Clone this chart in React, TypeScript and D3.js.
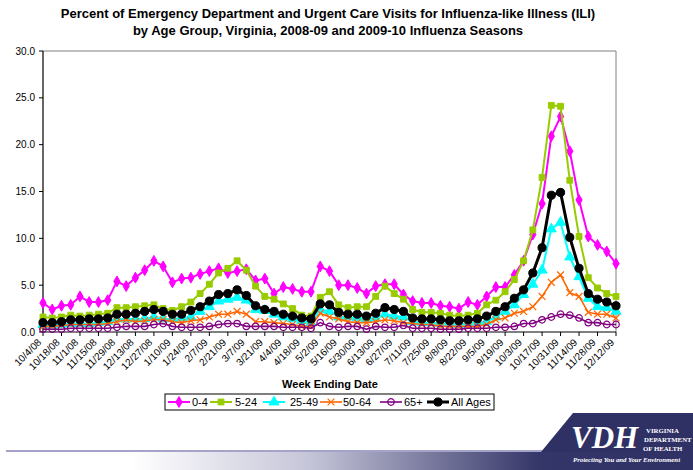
import React from "react";
import * as d3 from "d3";

const weeks = [
  "10/4/08","10/11/08","10/18/08","10/25/08","11/1/08","11/8/08","11/15/08","11/22/08","11/29/08","12/6/08",
  "12/13/08","12/20/08","12/27/08","1/3/09","1/10/09","1/17/09","1/24/09","1/31/09","2/7/09","2/14/09",
  "2/21/09","2/28/09","3/7/09","3/14/09","3/21/09","3/28/09","4/4/09","4/11/09","4/18/09","4/25/09",
  "5/2/09","5/9/09","5/16/09","5/23/09","5/30/09","6/6/09","6/13/09","6/20/09","6/27/09","7/4/09",
  "7/11/09","7/18/09","7/25/09","8/1/09","8/8/09","8/15/09","8/22/09","8/29/09","9/5/09","9/12/09",
  "9/19/09","9/26/09","10/3/09","10/10/09","10/17/09","10/24/09","10/31/09","11/7/09","11/14/09","11/21/09",
  "11/28/09","12/5/09","12/12/09",
];

const age0_4 = [3.1,2.4,2.8,2.9,3.8,3.2,3.2,3.4,5.4,4.9, 5.8,6.6,7.6,7.0,5.3,5.7,5.8,6.2,6.5,6.8, 6.3,6.5,6.7,5.5,5.7,4.1,4.8,4.6,4.3,4.3, 7.0,6.5,5.0,5.0,4.7,4.1,4.9,5.1,5.1,4.0, 3.3,3.1,3.1,2.8,2.7,2.5,3.2,2.9,3.8,4.8, 4.8,6.1,7.6,10.4,13.7,20.9,23.0,19.3,14.1,10.2, 9.3,8.6,7.3];
const age5_24 = [1.6,1.5,1.6,1.8,1.7,1.8,1.9,2.0,2.6,2.6, 2.7,2.8,2.9,2.5,2.3,2.7,3.2,4.1,5.1,6.3, 6.8,7.6,6.6,4.9,3.8,3.5,3.0,2.5,1.8,1.7, 3.7,4.3,2.9,2.6,2.7,2.7,3.8,4.9,4.1,3.5, 2.4,2.1,2.1,2.0,1.8,1.7,1.8,2.0,2.9,3.4, 4.3,5.6,7.6,10.9,16.5,24.2,24.1,16.2,10.2,5.8, 4.7,4.1,3.8];
const age25_49 = [0.8,0.7,0.8,0.9,0.9,0.9,1.0,1.1,1.4,1.4, 1.4,1.4,1.6,1.4,1.4,1.5,1.6,2.2,2.7,3.3, 3.5,3.7,3.4,2.4,2.3,1.9,1.6,1.4,1.2,1.0, 2.4,2.2,1.6,1.6,1.5,1.4,1.5,1.9,1.7,1.6, 1.1,1.0,1.0,0.9,0.9,0.8,0.9,1.0,1.1,1.6, 2.2,2.9,4.0,5.1,6.6,11.0,11.7,8.0,5.9,3.6, 2.7,2.6,2.2];
const age50_64 = [0.6,0.6,0.7,0.8,0.8,0.8,0.8,0.9,1.1,1.3, 1.1,1.2,1.3,1.3,1.1,1.0,1.2,1.3,1.6,1.9, 1.9,2.2,1.9,1.1,1.1,1.0,0.9,0.8,0.6,0.6, 2.0,1.6,1.4,1.1,1.0,1.0,1.1,1.3,1.2,1.0, 0.9,0.8,0.8,0.6,0.6,0.6,0.6,0.6,0.8,1.3, 1.5,2.0,2.2,2.7,3.8,5.3,6.1,4.2,3.8,2.1, 1.9,1.9,1.5];
const age65 = [0.3,0.3,0.3,0.4,0.4,0.4,0.4,0.4,0.5,0.6, 0.6,0.6,0.8,0.9,0.6,0.5,0.5,0.5,0.6,0.8, 0.9,0.9,0.6,0.6,0.6,0.6,0.5,0.5,0.5,0.4, 1.0,0.6,0.5,0.6,0.6,0.3,0.6,0.5,0.5,0.7, 0.4,0.4,0.4,0.3,0.3,0.3,0.4,0.4,0.4,0.5, 0.5,0.6,0.9,0.9,1.3,1.6,1.9,1.8,1.5,1.0, 1.0,0.8,0.8];
const allAges = [1.0,1.0,1.1,1.3,1.3,1.4,1.4,1.5,1.9,1.9, 2.0,2.2,2.4,2.2,1.9,1.9,2.3,2.7,3.3,4.0, 4.1,4.5,3.9,2.8,2.4,2.2,1.9,1.7,1.5,1.4, 3.0,2.9,2.1,1.9,1.9,1.7,2.0,2.6,2.4,2.2, 1.5,1.4,1.4,1.3,1.2,1.2,1.3,1.4,1.7,2.2, 2.7,3.6,4.5,6.3,9.0,14.6,14.9,10.1,6.8,4.1, 3.5,3.2,2.8];

const yTicks = [0, 5, 10, 15, 20, 25, 30];

const seriesNames = ["0-4", "5-24", "25-49", "50-64", "65+", "All Ages"];
const seriesValues = [age0_4, age5_24, age25_49, age50_64, age65, allAges];

type Style = { color: string; width: number; symbol: d3.SymbolType; size: number; fill: string; stroke: string; sw: number };
const styles: Style[] = [
  { color: "#FF00FF", width: 2, symbol: d3.symbolDiamond, size: 34, fill: "#FF00FF", stroke: "#FF00FF", sw: 1 },
  { color: "#99CC00", width: 2, symbol: d3.symbolSquare, size: 34, fill: "#99CC00", stroke: "#99CC00", sw: 1 },
  { color: "#00FFFF", width: 2, symbol: d3.symbolTriangle, size: 44, fill: "#00FFFF", stroke: "#00FFFF", sw: 1 },
  { color: "#FF6600", width: 1.6, symbol: d3.symbolX, size: 32, fill: "none", stroke: "#FF6600", sw: 1.2 },
  { color: "#800080", width: 1.6, symbol: d3.symbolCircle, size: 34, fill: "none", stroke: "#800080", sw: 1.2 },
  { color: "#000000", width: 3, symbol: d3.symbolCircle, size: 52, fill: "#000000", stroke: "#000000", sw: 1 },
];

const W = 693, H = 470;
const L = 43, R = 616, T = 51, B = 332;

export default function App() {
  const x = d3.scalePoint<string>().domain(weeks).range([L, R]);
  const y = d3.scaleLinear().domain([0, 30]).range([B, T]);
  const line = d3.line<number>().x((_, i) => x(weeks[i]) as number).y((d) => y(d));

  const legendItems = [
    { lx: 168, tx: 192 },
    { lx: 210, tx: 235 },
    { lx: 263, tx: 290 },
    { lx: 320, tx: 343 },
    { lx: 380, tx: 404 },
    { lx: 427, tx: 451 },
  ];

  return (
    <svg width={W} height={H} style={{ position: "absolute", left: 0, top: 0, background: "#fff" }} fontFamily="Liberation Sans, Arial, sans-serif">
      <defs>
        <linearGradient id="band" x1="0" x2="1" y1="0" y2="0">
          <stop offset="0" stopColor="#ffffff" />
          <stop offset="0.19" stopColor="#ffffff" />
          <stop offset="0.45" stopColor="#c4c4d8" />
          <stop offset="0.78" stopColor="#343568" />
          <stop offset="1" stopColor="#2f3064" />
        </linearGradient>
      </defs>
      <rect x={0} y={0} width={W} height={H} fill="#fff" />
      <text x={328} y={18} textAnchor="middle" fontSize={13} fontWeight="bold">Percent of Emergency Department and Urgent Care Visits for Influenza-like Illness (ILI)</text>
      <text x={328} y={35} textAnchor="middle" fontSize={13} fontWeight="bold">by Age Group, Virginia, 2008-09 and 2009-10 Influenza Seasons</text>

      {/* plot frame */}
      <line x1={L} x2={R} y1={T} y2={T} stroke="#808080" strokeWidth={1} />
      <line x1={R} x2={R} y1={T} y2={B} stroke="#808080" strokeWidth={1} />

      {/* y axis */}
      <line x1={L} x2={L} y1={T} y2={B} stroke="#000" strokeWidth={1.2} />
      {yTicks.map((t) => (
        <g key={t}>
          <line x1={L - 4} x2={L} y1={y(t)} y2={y(t)} stroke="#000" />
          <text x={L - 8} y={y(t) + 3.5} textAnchor="end" fontSize={10}>{t.toFixed(1)}</text>
        </g>
      ))}

      {/* x axis */}
      <line x1={L} x2={R} y1={B} y2={B} stroke="#000" strokeWidth={1.2} />
      {weeks.map((w, i) => i % 2 === 0 ? (
        <g key={w}>
          <line x1={x(w)} x2={x(w)} y1={B} y2={B + 4} stroke="#000" />
          <text transform={`translate(${(x(w) as number) - 1},${B + 11}) rotate(-45)`} textAnchor="end" fontSize={10}>{w}</text>
        </g>
      ) : null)}
      <text x={330} y={388} textAnchor="middle" fontSize={11} fontWeight="bold">Week Ending Date</text>

      {/* series */}
      {seriesValues.map((vals, si) => {
        const s = styles[si];
        const sym = d3.symbol().type(s.symbol).size(s.size)();
        return (
          <g key={seriesNames[si]}>
            <path d={line(vals) || ""} fill="none" stroke={s.color} strokeWidth={s.width} strokeLinejoin="round" />
            {vals.map((v, i) => (
              <path key={i} d={sym || ""} transform={`translate(${x(weeks[i])},${y(v)})`} fill={s.fill} stroke={s.stroke} strokeWidth={s.sw} />
            ))}
          </g>
        );
      })}

      {/* legend */}
      <rect x={165} y={394} width={329} height={16} fill="#fff" stroke="#000" strokeWidth={1} />
      {seriesNames.map((n, si) => {
        const s = styles[si];
        const it = legendItems[si];
        const sym = d3.symbol().type(s.symbol).size(s.size)();
        const cy = 402;
        return (
          <g key={n}>
            <line x1={it.lx} x2={it.lx + 22} y1={cy} y2={cy} stroke={s.color} strokeWidth={s.width} />
            <path d={sym || ""} transform={`translate(${it.lx + 11},${cy})`} fill={s.fill} stroke={s.stroke} strokeWidth={s.sw} />
            <text x={it.tx} y={cy + 4} fontSize={11}>{n}</text>
          </g>
        );
      })}

      {/* footer band and logo */}
      <rect x={0} y={452} width={W} height={18} fill="url(#band)" />
      <line x1={6} x2={548} y1={451} y2={451} stroke="#8486b4" strokeWidth={1.5} />
      <polygon points="573,413 693,413 693,452 541,452" fill="#2f3064" />
      <text x={571} y={448} fill="#fff" fontSize={31} fontWeight="bold" fontStyle="italic" fontFamily="Liberation Serif, Times New Roman, serif">VDH</text>
      <g fill="#fff" fontSize={6.8} fontWeight="bold" fontFamily="Liberation Serif, Times New Roman, serif">
        <text x={646} y={433}>VIRGINIA</text>
        <text x={644} y={442}>DEPARTMENT</text>
        <text x={643} y={451}>OF HEALTH</text>
      </g>
      <text x={573} y={462} fill="#fff" fontSize={6.8} fontWeight="bold" fontStyle="italic" fontFamily="Liberation Serif, Times New Roman, serif">Protecting You and Your Environment</text>
    </svg>
  );
}
